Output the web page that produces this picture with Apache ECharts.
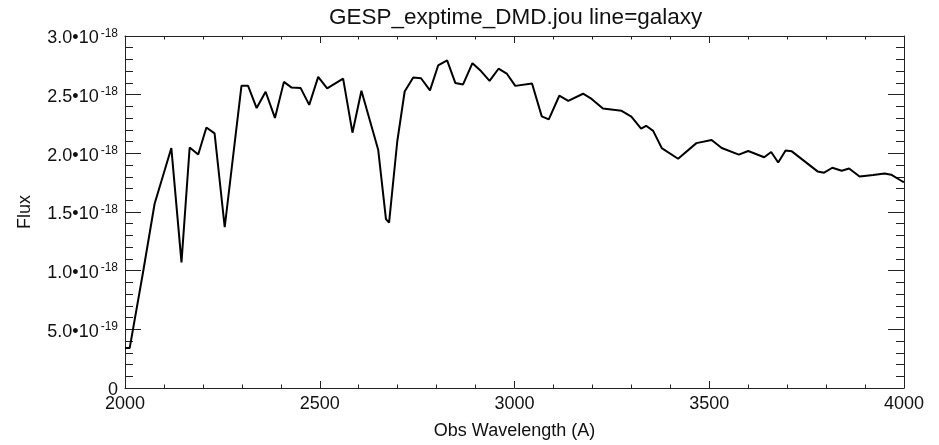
<!DOCTYPE html>
<html>
<head>
<meta charset="utf-8">
<script src="https://cdn.jsdelivr.net/npm/echarts@6/dist/echarts.min.js"></script>
<style>
html,body{margin:0;padding:0;background:#fff;}
#chart{width:939px;height:445px;}
</style>
</head>
<body>
<div id="chart"></div>
<script>
// Wavelength (A)
var wavelength = [2000,2012,2046,2076,2119,2145,2166,2188,2209,2230,2256,2282,2299,2316,2338,2361,2385,2408,2427,2451,2473,2496,2519,2560,2584,2607,2650,2670,2678,2699,2718,2740,2760,2783,2804,2827,2848,2868,2892,2914,2936,2959,2980,3002,3045,3070,3088,3115,3138,3176,3198,3227,3275,3300,3325,3338,3356,3378,3420,3467,3506,3532,3576,3600,3641,3659,3677,3696,3712,3778,3795,3816,3840,3859,3886,3921,3950,3967,3996,4000];
// Flux in units of 1e-18
var fluxE18 = [0.34,0.34,0.98,1.57,2.045,1.07,2.05,1.99,2.22,2.17,1.37,2.10,2.575,2.575,2.386,2.525,2.302,2.609,2.562,2.556,2.413,2.652,2.553,2.637,2.176,2.533,2.031,1.44,1.41,2.101,2.527,2.646,2.640,2.537,2.749,2.793,2.600,2.587,2.768,2.701,2.617,2.721,2.680,2.575,2.595,2.315,2.289,2.491,2.447,2.508,2.464,2.382,2.362,2.313,2.210,2.235,2.191,2.045,1.954,2.087,2.114,2.045,1.989,2.020,1.967,2.011,1.922,2.024,2.017,1.846,1.835,1.877,1.852,1.871,1.802,1.816,1.829,1.818,1.760,1.755];
var FLUX_UNIT = 1e-18;
var xTicks = {min:2000, max:4000, interval:500};
var yTicks = {min:0, max:3.0, interval:0.5};

var FONT = '"Liberation Sans", Arial, Helvetica, sans-serif';
var data = wavelength.map(function(w,i){return [w, fluxE18[i]];});

function sciLabel(v){
  if (Math.abs(v) < 1e-9) return '{m|0}';
  var val = v * FLUX_UNIT;
  var e = Math.floor(Math.log10(val) + 1e-9);
  var m = val / Math.pow(10, e);
  if (m >= 9.95) { m /= 10; e += 1; }
  return '{m|' + m.toFixed(1) + '\u202210}{s|' + (e<0?'-':'') + Math.abs(e) + '}';
}

var axisLineStyle = {color:'#222', width:1};
var chart = echarts.init(document.getElementById('chart'), null, {renderer:'canvas'});
chart.setOption({
  animation:false,
  backgroundColor:'#fff',
  title:{
    text:'GESP_exptime_DMD.jou line=galaxy',
    left:324, top:1,
    textStyle:{fontFamily:FONT, fontSize:22.5, fontWeight:'normal', color:'#111'}
  },
  grid:{left:125, right:35, top:36, bottom:51, containLabel:false},
  xAxis:[{
    type:'value', min:xTicks.min, max:xTicks.max, interval:xTicks.interval,
    name:'Obs Wavelength (A)', nameLocation:'middle', nameGap:34,
    nameTextStyle:{fontFamily:FONT, fontSize:18, color:'#111'},
    axisLine:{show:true, onZero:false, lineStyle:axisLineStyle},
    axisTick:{show:true, inside:true, length:7, lineStyle:axisLineStyle},
    minorTick:{show:true, splitNumber:5, length:3.5, lineStyle:axisLineStyle},
    axisLabel:{fontFamily:FONT, fontSize:18, color:'#111', margin:7,
      formatter:function(v){return String(v);}},
    splitLine:{show:false}
  },{
    type:'value', position:'top', min:xTicks.min, max:xTicks.max, interval:xTicks.interval,
    axisLine:{show:true, onZero:false, lineStyle:axisLineStyle},
    axisTick:{show:true, inside:true, length:7, lineStyle:axisLineStyle},
    minorTick:{show:true, splitNumber:5, length:3.5, lineStyle:axisLineStyle},
    axisLabel:{show:false}, splitLine:{show:false}
  }],
  yAxis:[{
    type:'value', min:yTicks.min, max:yTicks.max, interval:yTicks.interval,
    name:'Flux', nameLocation:'middle', nameGap:91, nameRotate:90,
    nameTextStyle:{fontFamily:FONT, fontSize:18, color:'#111'},
    axisLine:{show:true, onZero:false, lineStyle:axisLineStyle},
    axisTick:{show:true, inside:true, length:16, lineStyle:axisLineStyle},
    minorTick:{show:true, splitNumber:5, length:8, lineStyle:axisLineStyle},
    axisLabel:{
      margin:7, formatter:sciLabel, padding:[5,0,0,0],
      rich:{
        m:{fontFamily:FONT, fontSize:18, color:'#111'},
        s:{fontFamily:FONT, fontSize:12, color:'#111', padding:[0,0,10,2]}
      }
    },
    splitLine:{show:false}
  },{
    type:'value', position:'right', min:yTicks.min, max:yTicks.max, interval:yTicks.interval,
    axisLine:{show:true, onZero:false, lineStyle:axisLineStyle},
    axisTick:{show:true, inside:true, length:16, lineStyle:axisLineStyle},
    minorTick:{show:true, splitNumber:5, length:8, lineStyle:axisLineStyle},
    axisLabel:{show:false}, splitLine:{show:false}
  }],
  series:[{
    type:'line', xAxisIndex:0, yAxisIndex:0, data:data,
    showSymbol:false, symbol:'none',
    lineStyle:{color:'#000', width:2}
  }]
});
</script>
</body>
</html>
